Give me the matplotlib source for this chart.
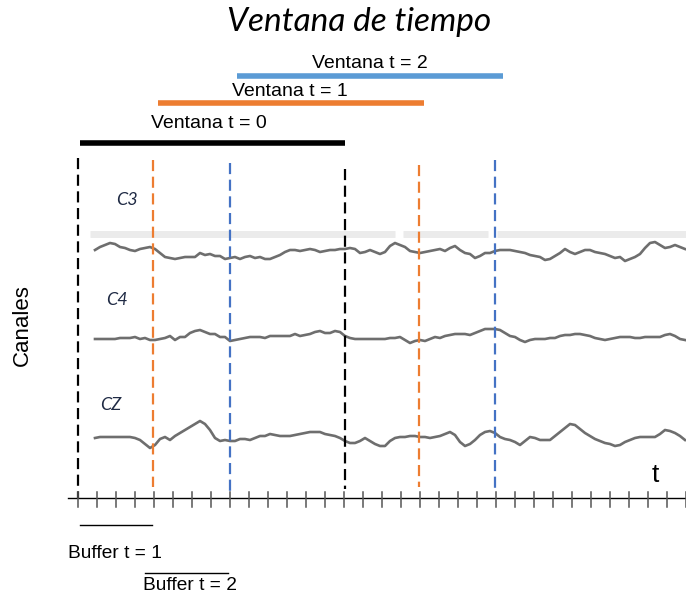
import matplotlib.pyplot as plt
import numpy as np

# todo en coordenadas de pixel de la figura (686 x 598)
W, H = 686, 598

ventanas = ["Ventana t = 0", "Ventana t = 1", "Ventana t = 2"]
vent_ini = [80, 158, 237]
vent_fin = [345, 424, 503]
vent_y = [143, 103, 76]
vent_col = ["black", "#ED7D31", "#5B9BD5"]
etiq_x = [209, 290, 370]
etiq_y = [124, 91, 64]

# lineas verticales discontinuas: x, y arriba, y abajo, color
lin_x = [153, 230, 345, 419, 495]
lin_y0 = [160, 163, 169, 165, 160]
lin_y1 = [487, 493, 489, 487, 492]
lin_col = ["#ED7D31", "#4472C4", "black", "#ED7D31", "#4472C4"]

canales = ["C3", "C4", "CZ"]
canal_pos = [(127, 200), (117, 300), (111, 405)]

# senales (y en pixeles, x de 95 a 685 cada 5)
c3 = [250, 247, 245, 243, 244, 247, 248, 250, 251, 249,
      248, 247, 249, 253, 257, 258, 259, 258, 257, 257,
      257, 253, 255, 254, 256, 256, 259, 258, 257, 259,
      257, 256, 258, 257, 259, 259, 257, 255, 252, 250,
      250, 251, 250, 249, 250, 252, 251, 250, 250, 249,
      249, 248, 249, 253, 252, 250, 252, 254, 252, 246,
      243, 245, 247, 251, 252, 253, 252, 251, 250, 249,
      251, 248, 246, 250, 253, 254, 258, 256, 253, 253,
      251, 250, 250, 250, 251, 252, 253, 255, 256, 257,
      260, 259, 256, 253, 249, 252, 254, 252, 250, 250,
      252, 253, 254, 256, 258, 257, 261, 259, 257, 254,
      248, 243, 242, 245, 248, 247, 245, 247, 249]
c4 = [339, 339, 339, 339, 339, 338, 338, 338, 337, 339,
      338, 340, 340, 339, 338, 336, 340, 337, 337, 333,
      331, 330, 332, 334, 334, 337, 337, 341, 340, 339,
      338, 337, 337, 337, 338, 336, 336, 336, 336, 336,
      334, 336, 335, 334, 332, 331, 333, 333, 331, 332,
      336, 338, 339, 339, 339, 339, 339, 339, 339, 338,
      338, 337, 340, 343, 341, 340, 341, 339, 337, 338,
      336, 335, 334, 334, 334, 335, 333, 331, 329, 329,
      329, 330, 333, 336, 337, 340, 342, 340, 339, 339,
      339, 338, 338, 336, 335, 335, 334, 334, 335, 336,
      338, 339, 340, 339, 338, 337, 337, 337, 338, 338,
      337, 337, 337, 337, 335, 334, 336, 339, 340]
cz = [438, 437, 437, 437, 437, 437, 437, 437, 438, 440,
      444, 448, 445, 439, 437, 440, 436, 433, 430, 427,
      424, 421, 424, 430, 438, 441, 440, 441, 441, 439,
      439, 440, 438, 436, 436, 434, 435, 436, 436, 436,
      435, 434, 433, 432, 432, 432, 434, 435, 436, 438,
      441, 443, 443, 441, 438, 441, 444, 446, 446, 441,
      438, 437, 437, 436, 436, 437, 437, 438, 437, 436,
      434, 432, 435, 442, 446, 444, 440, 435, 432, 431,
      433, 437, 439, 440, 442, 445, 441, 437, 438, 440,
      440, 440, 436, 432, 428, 424, 425, 429, 433, 436,
      439, 441, 443, 444, 446, 445, 442, 440, 438, 437,
      437, 437, 437, 434, 430, 431, 433, 436, 440]

# tramos de la banda gris sobre C3
banda_ini = [90, 403, 497]
banda_fin = [395, 488, 686]

fig = plt.figure(figsize=(6.86, 5.98), dpi=100)
ax = fig.add_axes([0, 0, 1, 1])
ax.set_xlim(0, W)
ax.set_ylim(H, 0)
ax.axis("off")

arial = ["Liberation Sans", "DejaVu Sans"]
calibri = ["Lato", "DejaVu Sans"]

ax.text(359, 22, "Ventana de tiempo", fontsize=24, style="italic",
        family=calibri, ha="center", va="center")

for nombre, x0, x1, y, c, tx, ty in zip(ventanas, vent_ini, vent_fin, vent_y,
                                        vent_col, etiq_x, etiq_y):
    ax.plot([x0, x1], [y, y], color=c, lw=4, solid_capstyle="butt")
    ax.text(tx, ty, nombre, fontsize=14, family=arial,
            ha="center", va="center")

# banda gris
for x0, x1 in zip(banda_ini, banda_fin):
    ax.plot([x0, x1], [233.5, 233.5], color="#ebebeb", lw=5,
            solid_capstyle="butt", zorder=1)

xs = np.linspace(95, 685, len(c3))
for s in (c3, c4, cz):
    ax.plot(xs, s, color="#6e6e6e", lw=1.9, zorder=2)

for nombre, (x, y) in zip(canales, canal_pos):
    ax.text(x, y, nombre, fontsize=13, style="italic", family=calibri,
            color="#1f2a44", ha="center", va="center")

# eje vertical (discontinuo)
ax.plot([78, 78], [158, 498], color="black", lw=1.6, dashes=(5, 2.5), zorder=3)
for x, y0, y1, c in zip(lin_x, lin_y0, lin_y1, lin_col):
    ax.plot([x, x], [y0, y1], color=c, lw=1.6, dashes=(5, 2.5), zorder=3)

# eje horizontal con marcas
ax.plot([68, W], [498, 498], color="black", lw=1, zorder=3)
for x in np.arange(78, W + 1, 19):
    ax.plot([x, x], [492, 507], color="#555555", lw=1.1, zorder=3)

ax.text(655, 475, "t", fontsize=19, family=arial, ha="center", va="center")
ax.text(22, 325, "Canales", fontsize=16, family=arial, rotation=90,
        ha="center", va="center")

# buffers
ax.plot([80, 152], [525, 525], color="black", lw=1)
ax.text(115, 553, "Buffer t = 1", fontsize=13.8, family=arial,
        ha="center", va="center")
ax.plot([145, 228], [573, 573], color="black", lw=1)
ax.text(190, 585, "Buffer t = 2", fontsize=13.8, family=arial,
        ha="center", va="center")

fig.savefig("out.png", dpi=100)
